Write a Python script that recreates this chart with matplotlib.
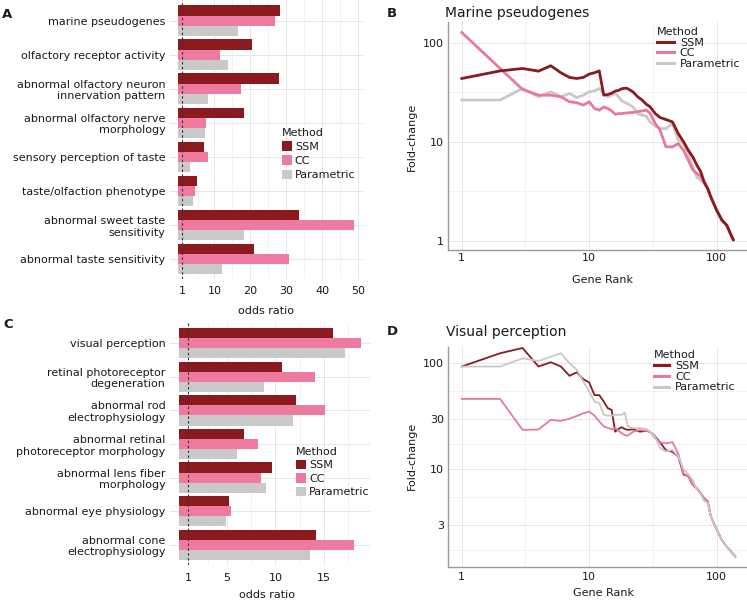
import matplotlib
matplotlib.use("Agg")
import matplotlib.pyplot as plt
from matplotlib.patches import Patch
from matplotlib.lines import Line2D
import numpy as np

plt.rcParams['font.family'] = ['DejaVu Sans']

# ---------------- data ----------------
methods = ["SSM", "CC", "Parametric"]
bar_colors = ["#8B1A1F", "#EF7A9F", "#C9C9C9"]
line_colors = ["#8B1A1F", "#E9789C", "#C9C9C9"]

A_categories = ["marine pseudogenes", "olfactory receptor activity",
                "abnormal olfactory neuron\ninnervation pattern",
                "abnormal olfactory nerve\nmorphology",
                "sensory perception of taste", "taste/olfaction phenotype",
                "abnormal sweet taste\nsensitivity", "abnormal taste sensitivity"]
A_ssm = [28.2, 20.4, 27.9, 18.1, 7.2, 5.1, 33.5, 21.1]
A_cc = [26.8, 11.6, 17.3, 7.6, 8.3, 4.6, 48.8, 30.6]
A_param = [16.4, 13.7, 8.1, 7.4, 3.1, 4.0, 18.2, 12.2]
A_ticks = [1, 10, 20, 30, 40, 50]

C_categories = ["visual perception", "retinal photoreceptor\ndegeneration",
                "abnormal rod\nelectrophysiology",
                "abnormal retinal\nphotoreceptor morphology",
                "abnormal lens fiber\nmorphology", "abnormal eye physiology",
                "abnormal cone\nelectrophysiology"]
C_ssm = [16.0, 10.7, 12.1, 6.8, 9.6, 5.2, 14.2]
C_cc = [18.8, 14.1, 15.1, 8.2, 8.5, 5.4, 18.1]
C_param = [17.2, 8.8, 11.8, 6.0, 9.0, 4.9, 13.6]
C_ticks = [1, 5, 10, 15]

B_rank = [1, 2, 3, 4, 5, 6, 7, 8, 9, 10, 11, 12, 13, 14, 15, 16, 17, 18, 19, 20,
          22, 24, 26, 28, 30, 33, 36, 40, 45, 50, 55, 60, 65, 70, 75, 80, 85, 90,
          100, 110, 120, 130, 135]
B_ssm = [43.6, 52, 55, 51.7, 58.6, 49.8, 44.7, 43.6, 44.7, 48.3, 49.8, 52, 29.6, 30, 31, 32.5, 33.1, 34.3, 34.8, 34.5,
         32, 28.5, 26.4, 24, 22.6, 19.3, 17.6, 16.8, 15.9, 12.1, 10, 8.2, 7.05, 5.8, 5.0, 3.9, 3.38, 2.78,
         2.04, 1.62, 1.44, 1.14, 1.03]
B_cc = [127, 55, 33.8, 29.6, 29.6, 28.5, 25.4, 24.8, 23.5, 25.4, 21.7, 20.9, 22.5, 21.7, 20.5, 19, 19.3, 19.3, 19.5, 19.6,
        19.8, 20.2, 20.5, 20.9, 19.5, 15.3, 13.1, 8.9, 8.9, 9.6, 8.2, 6.5, 5.2, 4.8, 4.5, 3.9, 3.38, 2.78,
        2.04, 1.62, 1.44, 1.14, 1.03]
B_param = [26.4, 26.4, 34.6, 28.5, 32, 28.5, 30.8, 28, 29.6, 32, 32.7, 34.6, 30.8, 28.5, 29.6, 30.8, 28.5, 25.9, 25, 24.3,
           22.6, 19.3, 18.6, 18.2, 15.9, 14.4, 13.6, 13.6, 15.3, 10.4, 9.6, 7.6, 5.6, 4.4, 4.1, 3.8, 3.38, 2.78,
           2.04, 1.62, 1.44, 1.14, 1.03]

D_rank = [1, 2, 3, 4, 5, 6, 7, 8, 9, 10, 11, 12, 13, 14, 15, 16, 17, 18, 19, 20,
          22, 25, 28, 30, 33, 36, 40, 45, 50, 55, 60, 65, 70, 75, 80, 85, 90,
          100, 110, 120, 130, 140]
D_ssm = [93, 124, 139, 93, 102, 93, 76, 82, 70.6, 65.8, 50, 50, 43.5, 37.6, 36.3, 22.6, 24, 24.9, 24, 23.5,
         23.8, 22.6, 23, 22.6, 20.3, 17.9, 15.1, 14.6, 13.2, 8.9, 8.6, 7.1, 6.6, 5.9, 5.3, 5.0, 3.6,
         2.7, 2.14, 1.86, 1.67, 1.5]
D_cc = [46, 46, 23.5, 23.7, 29.2, 28.6, 30, 31.8, 33.7, 35, 32, 28.2, 25.4, 24.5, 23.9, 24.5, 23, 21.9, 21, 20.7,
        22.5, 23.5, 23, 22.5, 19.6, 17.9, 17.6, 18.0, 14, 9.1, 8.6, 7.1, 6.6, 5.9, 5.3, 5.0, 3.6,
        2.7, 2.14, 1.86, 1.67, 1.5]
D_param = [93, 93, 111, 105, 115, 124, 100, 86.5, 67, 54, 43.5, 42, 32.6, 32, 32, 32.6, 32.6, 32.6, 34.3, 25.6,
           24.4, 24.4, 24, 22.6, 20, 15.8, 14.7, 15.2, 13.2, 10, 8.9, 7.9, 6.4, 5.8, 5.0, 4.8, 3.6,
           2.7, 2.14, 1.86, 1.67, 1.5]

# ---------------- layout helpers ----------------
W, H = 747, 600
fig = plt.figure(figsize=(W / 100, H / 100), dpi=100)


def ax_px(left, top, right, bottom):
    return fig.add_axes([left / W, 1 - bottom / H, (right - left) / W, (bottom - top) / H])


def ftext(x, y, s, **kw):
    fig.text(x / W, 1 - y / H, s, **kw)


TXT = "#1a1a1a"
GRID_MAJ = "#e6e6e6"
GRID_MIN = "#f0f0f0"


def bar_panel(ax, cats, ssm, cc, par, ticks, xlim, minor, tickpad):
    n = len(cats)
    y = np.arange(n)
    h = 0.3
    for j, (vals, col) in enumerate(zip([ssm, cc, par], bar_colors)):
        ax.barh(y + (j - 1) * h, vals, height=h, color=col, zorder=3, label=methods[j])
    ax.set_ylim(n - 1 + 0.6, -0.6)
    ax.set_xlim(*xlim)
    ax.set_yticks(y)
    ax.set_yticklabels(cats, fontsize=8, color=TXT, ha="right", multialignment="right")
    ax.set_xticks(ticks)
    ax.set_xticklabels([str(t) for t in ticks], fontsize=8, color=TXT)
    ax.set_xticks(minor, minor=True)
    ax.tick_params(axis="both", which="both", length=0)
    ax.tick_params(axis="y", pad=3)
    ax.tick_params(axis="x", pad=tickpad)
    ax.grid(True, axis="x", which="major", color=GRID_MAJ, lw=0.7, zorder=0)
    ax.grid(True, axis="x", which="minor", color=GRID_MIN, lw=0.6, zorder=0)
    ax.grid(True, axis="y", which="major", color=GRID_MAJ, lw=0.7, zorder=0)
    for s in ax.spines.values():
        s.set_visible(False)
    ax.axvline(1, color="#333333", lw=0.8, ls=(0, (2.2, 2.2)), zorder=4)


def line_panel(ax, ranks, series, xlim, ylim, yticks, yminor, lw, order):
    for idx in order:
        ax.plot(ranks, series[idx], color=line_colors[idx], lw=lw, zorder=3 + order.index(idx),
                solid_joinstyle="round")
    ax.set_xscale("log")
    ax.set_yscale("log")
    ax.set_xlim(*xlim)
    ax.set_ylim(*ylim)
    ax.set_xticks([1, 10, 100])
    ax.set_xticklabels(["1", "10", "100"], fontsize=8, color=TXT)
    ax.set_xticks([10 ** 0.5, 10 ** 1.5], minor=True)
    ax.set_xticklabels([], minor=True)
    ax.set_yticks(yticks)
    ax.set_yticklabels([str(t) for t in yticks], fontsize=8, color=TXT)
    ax.set_yticks(yminor, minor=True)
    ax.set_yticklabels([], minor=True)
    ax.tick_params(axis="both", which="both", length=0)
    ax.tick_params(axis="y", pad=2.7)
    ax.grid(True, which="major", color=GRID_MAJ, lw=0.7, zorder=0)
    ax.grid(True, which="minor", color=GRID_MIN, lw=0.6, zorder=0)
    for k in ["top", "right"]:
        ax.spines[k].set_visible(False)
    for k in ["left", "bottom"]:
        ax.spines[k].set_color("#9a9a9a")
        ax.spines[k].set_linewidth(1.0)


# ---------------- panel A ----------------
axA = ax_px(169.7, 0.3, 362.8, 279.4)
bar_panel(axA, A_categories, A_ssm, A_cc, A_param, A_ticks, (-2.44, 51.2),
          [5.5, 15, 25, 35, 45], 4.5)
ftext(265.7, 311, "odds ratio", fontsize=8, color=TXT, ha="center", va="center")
handlesA = [Patch(facecolor=c, edgecolor="none") for c in bar_colors]
legA = axA.legend(handlesA, methods, title="Method", loc="upper left",
                  bbox_to_anchor=(281.5 / W, 1 - 127.5 / H), bbox_transform=fig.transFigure,
                  frameon=False, fontsize=8, title_fontsize=8, borderpad=0, borderaxespad=0,
                  handlelength=0.9, handleheight=0.95, handletextpad=0.3, labelspacing=0.33,
                  alignment="left")
for t in legA.get_texts():
    t.set_color(TXT)
legA.get_title().set_color(TXT)

# ---------------- panel C ----------------
axC = ax_px(169.6, 323, 369.6, 565)
bar_panel(axC, C_categories, C_ssm, C_cc, C_param, C_ticks, (-0.94, 19.74),
          [3, 7.5, 12.5, 17.5], 6)
ftext(266.7, 595, "odds ratio", fontsize=8, color=TXT, ha="center", va="center")
handlesC = [Patch(facecolor=c, edgecolor="none") for c in bar_colors]
legC = axC.legend(handlesC, methods, title="Method", loc="upper left",
                  bbox_to_anchor=(296 / W, 1 - 447 / H), bbox_transform=fig.transFigure,
                  frameon=False, fontsize=8, title_fontsize=8, borderpad=0, borderaxespad=0,
                  handlelength=0.9, handleheight=0.95, handletextpad=0.3, labelspacing=0.25,
                  alignment="left")
for t in legC.get_texts():
    t.set_color(TXT)
legC.get_title().set_color(TXT)

# ---------------- panel B ----------------
axB = ax_px(447.7, 22, 747, 250)
line_panel(axB, B_rank, [B_ssm, B_cc, B_param], (0.776, 173), (0.81, 162),
           [1, 10, 100], [10 ** 0.5, 10 ** 1.5], 2.0, [2, 1, 0])
axB.tick_params(axis="x", pad=2)
ftext(603, 280, "Gene Rank", fontsize=8, color=TXT, ha="center", va="center")
ftext(411.7, 136.7, "Fold-change", fontsize=8, color=TXT, ha="center", va="center", rotation=90)
ftext(445, 13.3, "Marine pseudogenes", fontsize=10, color=TXT, ha="left", va="center")
handlesB = [Line2D([], [], color=c, lw=2.2) for c in line_colors]
legB = axB.legend(handlesB, methods, title="Method", loc="upper left",
                  bbox_to_anchor=(657 / W, 1 - 27 / H), bbox_transform=fig.transFigure,
                  frameon=False, fontsize=8, title_fontsize=8, borderpad=0, borderaxespad=0,
                  handlelength=1.5, handletextpad=0.55, labelspacing=0.06, alignment="left")
for t in legB.get_texts():
    t.set_color(TXT)
legB.get_title().set_color(TXT)

# ---------------- panel D ----------------
axD = ax_px(447.7, 346.7, 747, 566.7)
line_panel(axD, D_rank, [D_ssm, D_cc, D_param], (0.776, 173), (1.205, 143),
           [3, 10, 30, 100], [3 ** 0.5, 30 ** 0.5, 300 ** 0.5, 3000 ** 0.5], 1.3, [0, 1, 2])
axD.tick_params(axis="x", pad=4)
ftext(603.3, 593.3, "Gene Rank", fontsize=8, color=TXT, ha="center", va="center")
ftext(411.7, 456, "Fold-change", fontsize=8, color=TXT, ha="center", va="center", rotation=90)
ftext(446, 331.7, "Visual perception", fontsize=10, color=TXT, ha="left", va="center")
handlesD = [Line2D([], [], color=c, lw=2.2) for c in line_colors]
legD = axD.legend(handlesD, methods, title="Method", loc="upper left",
                  bbox_to_anchor=(654 / W, 1 - 350.5 / H), bbox_transform=fig.transFigure,
                  frameon=False, fontsize=8, title_fontsize=8, borderpad=0, borderaxespad=0,
                  handlelength=1.35, handletextpad=0.55, labelspacing=0.06, alignment="left")
for t in legD.get_texts():
    t.set_color(TXT)
legD.get_title().set_color(TXT)

# ---------------- panel letters ----------------
for x, y, s in [(7.5, 14, "A"), (8, 325, "C"), (392.3, 13.3, "B"), (392.3, 331.7, "D")]:
    ftext(x, y, s, fontsize=9.5, fontweight="bold", color=TXT, ha="center", va="center")

fig.savefig("out.png", dpi=100)
